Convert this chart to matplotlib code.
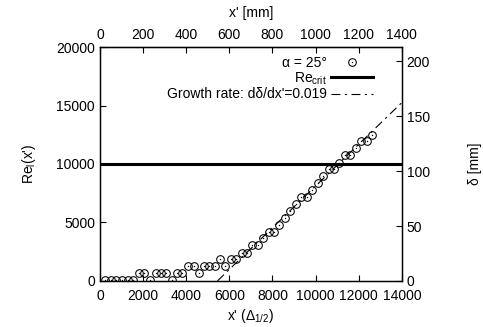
import matplotlib
matplotlib.use("Agg")
import matplotlib.pyplot as plt
import numpy as np
from matplotlib.legend_handler import HandlerTuple

plt.rcParams['font.family'] = ['Liberation Sans', 'DejaVu Sans']
plt.rcParams['mathtext.default'] = 'regular'
plt.rcParams['font.size'] = 10

# messwerte (x' in Delta_1/2, Re_l)
x_delta = [250, 514, 759, 1023, 1282, 1532, 1824, 2056, 2301, 2579,
           2829, 3074, 3319, 3569, 3815, 4079, 4338, 4588, 4847, 5079,
           5329, 5574, 5819, 6069, 6315, 6579, 6824, 7069, 7319, 7565,
           7829, 8074, 8319, 8583, 8829, 9079, 9324, 9588, 9833, 10097,
           10356, 10606, 10852, 11097, 11361, 11606, 11856, 12125, 12380, 12634]
re_l = [100, 100, 100, 100, 100, 100, 660, 660, 100, 660,
        660, 660, 100, 660, 660, 1280, 1280, 660, 1280, 1280,
        1280, 1855, 1280, 1855, 1855, 2420, 2420, 3050, 3050, 3650,
        4210, 4210, 4810, 5385, 6010, 6580, 7150, 7150, 7780, 8350,
        8970, 9570, 9570, 10110, 10740, 10740, 11340, 11940, 11940, 12520]

re_crit = 10000
growth_rate = 0.019      # d delta / dx'  [mm pro Delta]
growth_x0 = 5450         # nulldurchgang der fit-geraden
x_max = 14000
re_max = 20000
delta_max = 213

fig = plt.figure(figsize=(4.83, 3.27), dpi=100)
ax = fig.add_axes([0.207, 0.141, 0.625, 0.715])

pts_o, = ax.plot(x_delta, re_l, linestyle='none', marker='o', ms=5.5,
                 mfc='none', mec='black', mew=0.75)
pts_dot, = ax.plot(x_delta, re_l, linestyle='none', marker='o', ms=1.0,
                   mfc='black', mec='black', mew=0)
crit_line = ax.axhline(re_crit, color='black', lw=2.2)

ax.set_xlim(0, x_max)
ax.set_ylim(0, re_max)
ax.set_xticks(np.arange(0, 14001, 2000))
ax.set_yticks(np.arange(0, 20001, 5000))
ax.tick_params(direction='in', length=4, width=0.8, top=False, right=False)
ax.tick_params(axis='x', pad=6)
ax.set_xlabel("x' ($\\Delta_{1/2}$)", labelpad=3)
ax.set_ylabel("Re$_l$(x')", labelpad=13)

# zweite y-achse: grenzschichtdicke
ax2 = ax.twinx()
gx = np.array([growth_x0, x_max])
growth, = ax2.plot(gx, growth_rate * (gx - growth_x0), color='black', lw=0.8,
                   dashes=(8, 4, 2, 4))
ax2.set_ylim(0, delta_max)
ax2.set_yticks(np.arange(0, 201, 50))
ax2.tick_params(direction='in', length=4, width=0.8)
ax2.set_ylabel("δ [mm]", labelpad=27)

# obere achse in mm
top = ax.secondary_xaxis('top', functions=(lambda x: x / 10, lambda x: x * 10))
top.set_xticks(np.arange(0, 1401, 200))
top.tick_params(direction='in', length=4, width=0.8)
top.set_xlabel("x' [mm]", labelpad=8)

for a in (ax, ax2):
    for s in a.spines.values():
        s.set_linewidth(0.9)

leg = ax2.legend([(pts_o, pts_dot), crit_line, growth],
                 ['α = 25°', 'Re$_{crit}$', "Growth rate: dδ/dx'=0.019"],
                 handler_map={tuple: HandlerTuple(ndivide=1, pad=0)},
                 loc='upper right', bbox_to_anchor=(0.935, 1.005), frameon=False,
                 markerfirst=False, handlelength=3.0, handletextpad=0.3,
                 labelspacing=0.05, borderpad=0.2)

fig.savefig('out.png', dpi=100)
